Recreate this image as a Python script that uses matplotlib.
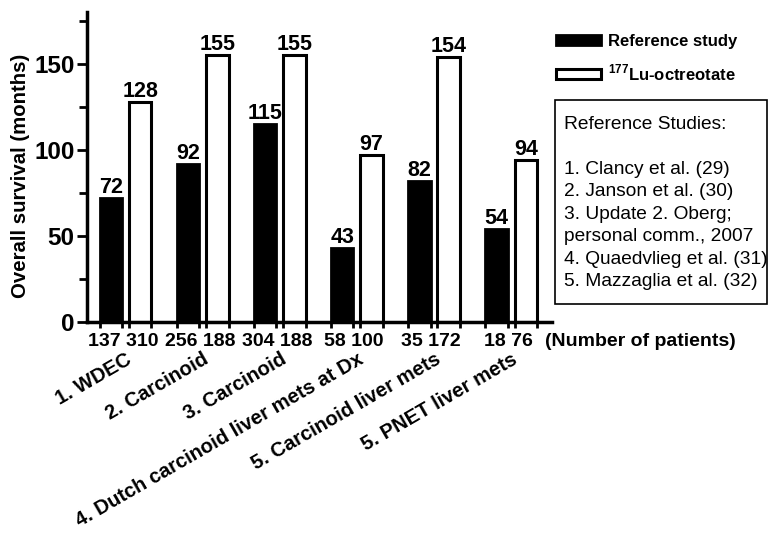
import matplotlib
matplotlib.use("Agg")
import matplotlib.pyplot as plt
from matplotlib.patches import Rectangle
import numpy as np

plt.rcParams['font.family'] = ['Liberation Sans', 'DejaVu Sans']
plt.rcParams['mathtext.fontset'] = 'custom'
plt.rcParams['mathtext.rm'] = 'Liberation Sans:bold'
plt.rcParams['mathtext.bf'] = 'Liberation Sans:bold'

categories = ["1. WDEC", "2. Carcinoid", "3. Carcinoid",
              "4. Dutch carcinoid liver mets at Dx",
              "5. Carcinoid liver mets", "5. PNET liver mets"]
reference = [72, 92, 115, 43, 82, 54]
lutetium = [128, 155, 155, 97, 154, 94]
n_reference = [137, 256, 304, 58, 35, 18]
n_lutetium = [310, 188, 188, 100, 172, 76]
studies = ["1. Clancy et al. (29)", "2. Janson et al. (30)", "3. Update 2. Oberg;",
           "personal comm., 2007", "4. Quaedvlieg et al. (31)", "5. Mazzaglia et al. (32)"]

fig = plt.figure(figsize=(7.68, 5.35), dpi=100)
ax = fig.add_axes([87 / 768, 1 - 322 / 535, (552 - 87) / 768, (322 - 12) / 535])

x = np.arange(len(categories))
off, w = 0.19, 0.29
b1 = ax.bar(x - off, reference, w, color="black", edgecolor="black", linewidth=2,
            label="Reference study")
b2 = ax.bar(x + off, lutetium, w, color="white", edgecolor="black", linewidth=2.2,
            label="$^{177}$Lu-octreotate")

for xi, v in zip(x - off, reference):
    ax.text(xi, v, str(v), ha="center", va="bottom", fontsize=15.5, fontweight="bold")
for xi, v in zip(x + off, lutetium):
    ax.text(xi, v, str(v), ha="center", va="bottom", fontsize=15.5, fontweight="bold")

ax.set_xlim(-0.5, 5.53)
ax.set_ylim(0, 180)
ax.set_yticks([0, 50, 100, 150])
ax.set_yticks([25, 75, 125, 175], minor=True)
ax.tick_params(axis="y", which="major", labelsize=17.5, width=2, length=7, pad=2)
ax.tick_params(axis="y", which="minor", width=2, length=6)
for lab in ax.get_yticklabels():
    lab.set_fontweight("bold")

edges = np.concatenate([x - off - w / 2, x - off + w / 2, x + off - w / 2, x + off + w / 2])
ax.set_xticks(edges)
ax.set_xticklabels([])
ax.tick_params(axis="x", width=2, length=4)

for s in ["top", "right"]:
    ax.spines[s].set_visible(False)
for s in ["left", "bottom"]:
    ax.spines[s].set_linewidth(2.5)

ax.set_ylabel("Overall survival (months)", fontsize=14.7, fontweight="bold", labelpad=3,
              y=0.47)

# patient counts, one pair per group
for xi, a, b in zip(x, n_reference, n_lutetium):
    ax.annotate(f"{a} {b}", (xi, 0), xycoords=("data", "axes fraction"), xytext=(-2, -8),
                textcoords="offset points", ha="center", va="top", fontsize=14,
                fontweight="bold")
ax.annotate("(Number of patients)", (5.53, 0), xycoords=("data", "axes fraction"),
            xytext=(-5, -8), textcoords="offset points", ha="left", va="top",
            fontsize=14, fontweight="bold")

for xi, c in zip(x, categories):
    ax.annotate(c, (xi, 0), xycoords=("data", "axes fraction"), xytext=(0, -20),
                textcoords="offset points", ha="right", va="top", rotation=30,
                rotation_mode="anchor", fontsize=14.5, fontweight="bold")

fig.legend(handles=[b1, b2], loc="upper left", bbox_to_anchor=(541 / 768, 1 - 19 / 535),
           frameon=False, handlelength=2.7, handleheight=0.55,
           labelspacing=0.8, handletextpad=0.4, prop={"weight": "bold", "size": 12})

fig.add_artist(Rectangle((555 / 768, 1 - 304 / 535), (767 - 555) / 768, 204 / 535,
                         transform=fig.transFigure, facecolor="white", edgecolor="black",
                         linewidth=1.2))
fig.text(564 / 768, 1 - 116 / 535, "Reference Studies:\n\n" + "\n".join(studies),
         ha="left", va="top", fontsize=13.8, linespacing=1.42)

fig.savefig("out.png", dpi=100)
